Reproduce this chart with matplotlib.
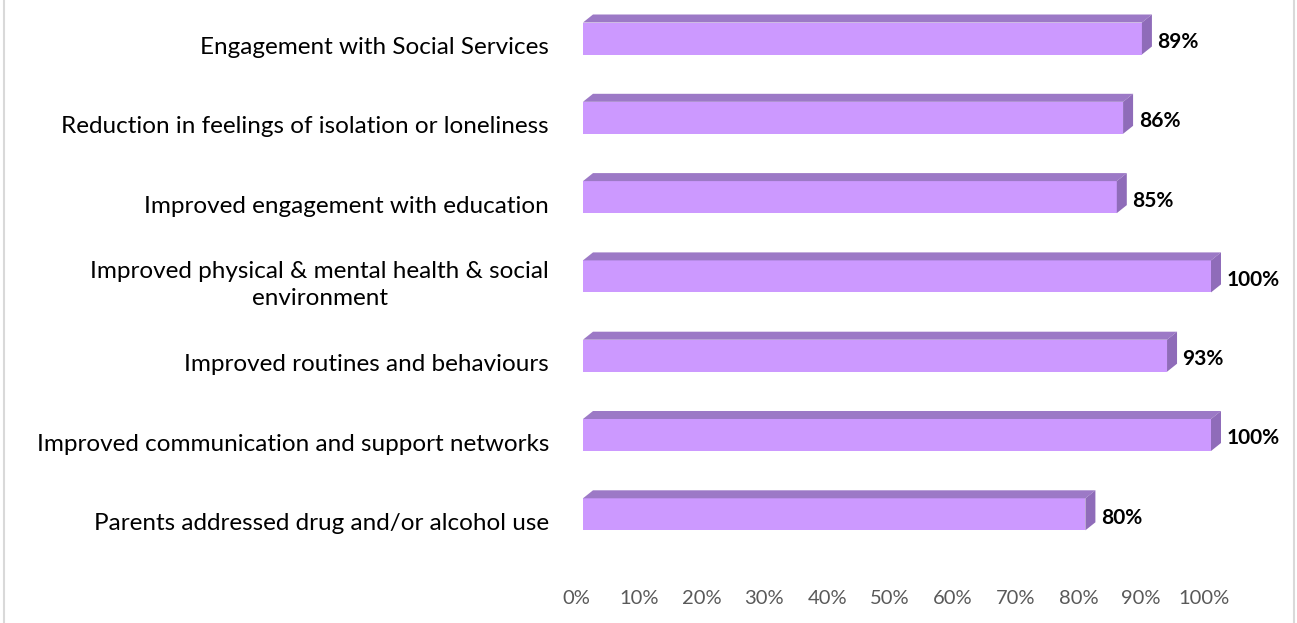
import numpy as np
import matplotlib
matplotlib.use("Agg")
import matplotlib.pyplot as plt
from matplotlib.patches import Polygon
from matplotlib.lines import Line2D
from matplotlib.transforms import ScaledTranslation

categories = [
    "Engagement with Social Services",
    "Reduction in feelings of isolation or loneliness",
    "Improved engagement with education",
    "Improved physical & mental health & social\nenvironment",
    "Improved routines and behaviours",
    "Improved communication and support networks",
    "Parents addressed drug and/or alcohol use",
]
values = [0.89, 0.86, 0.85, 1.00, 0.93, 1.00, 0.80]
value_labels = ["89%", "86%", "85%", "100%", "93%", "100%", "80%"]
tick_values = [0.0, 0.1, 0.2, 0.3, 0.4, 0.5, 0.6, 0.7, 0.8, 0.9, 1.0]
tick_labels = ["0%", "10%", "20%", "30%", "40%", "50%", "60%", "70%", "80%", "90%", "100%"]

FRONT = "#CC99FF"
TOP = "#9C79C6"
SIDE = "#8F6CB9"
FONT = "Lato"

W, H, DPI = 1297, 623, 100
fig = plt.figure(figsize=(W / DPI, H / DPI), dpi=DPI)

# plot area in pixels
left_px, right_px = 583, 1211
slot = 79.3
first_center = 38.5
n = len(categories)
top_px = first_center - 0.5 * slot
bot_px = first_center + (n - 0.5) * slot
ax = fig.add_axes([left_px / W, (H - bot_px) / H,
                   (right_px - left_px) / W, (bot_px - top_px) / H])
ax.set_xlim(0, 1)
ax.set_ylim(n - 0.5, -0.5)
for s in ax.spines.values():
    s.set_visible(False)
ax.set_yticks([])

bar_h = 32 / slot
dx = 10 / (right_px - left_px)   # depth offset in x (data units)
dy = 8 / slot                     # depth offset in y (data units)

ypos = np.arange(n)
ax.barh(ypos, values, height=bar_h, color=FRONT, edgecolor="none", zorder=3)
for y, v in zip(ypos, values):
    top = y - bar_h / 2
    bot = y + bar_h / 2
    ax.add_patch(Polygon([(0, top), (dx, top - dy), (v + dx, top - dy), (v, top)],
                         closed=True, facecolor=TOP, edgecolor="none", zorder=3,
                         clip_on=False))
    ax.add_patch(Polygon([(v, top), (v + dx, top - dy), (v + dx, bot - dy), (v, bot)],
                         closed=True, facecolor=SIDE, edgecolor="none", zorder=3,
                         clip_on=False))

# value labels
for y, v, lab in zip(ypos, values, value_labels):
    ax.annotate(lab, xy=(v + dx, y), xytext=(4, -2.5), textcoords="offset points",
                ha="left", va="center", fontsize=15, fontweight="bold",
                family=FONT, color="black", annotation_clip=False)

# category labels
for y, lab in zip(ypos, categories):
    ax.annotate(lab, xy=(0, y), xycoords=("axes fraction", "data"),
                xytext=(-24.5, -6.5), textcoords="offset points",
                ha="right", va="center", multialignment="center",
                fontsize=17.5, family=FONT, color="black", linespacing=1.35,
                annotation_clip=False)

# x tick labels
ax.set_xticks(tick_values)
ax.set_xticklabels(tick_labels, family=FONT, fontsize=14.5, color="#595959")
ax.tick_params(axis="x", length=0, pad=26)
shift = ScaledTranslation(-7 / DPI, 0, fig.dpi_scale_trans)
for t in ax.get_xticklabels():
    t.set_transform(t.get_transform() + shift)

# chart frame
for xp in (3.5, 1293.5):
    fig.add_artist(Line2D([xp / W, xp / W], [0, 1], color="#D9D9D9", lw=1.5))

fig.savefig("out.png", dpi=DPI)
